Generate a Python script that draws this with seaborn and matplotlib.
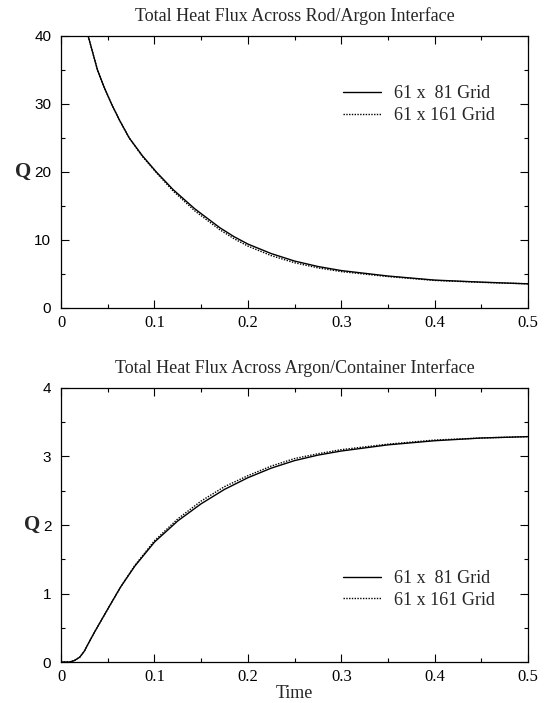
import matplotlib
matplotlib.use('Agg')
import matplotlib.pyplot as plt
import seaborn as sns
import pandas as pd
from matplotlib.ticker import MultipleLocator

sns.set_theme(style='ticks')
plt.rcParams['font.family'] = ['Liberation Serif', 'DejaVu Serif']

labels = ['61 x  81 Grid', '61 x 161 Grid']

# rod / argon interface
t_rod = [0.029, 0.039, 0.046, 0.054, 0.063, 0.073, 0.087, 0.102, 0.12, 0.143,
         0.17, 0.185, 0.2, 0.225, 0.25, 0.275, 0.3, 0.35, 0.4, 0.45, 0.5]
q_rod_81 = [40, 35, 32.5, 30, 27.5, 25, 22.4, 20, 17.4, 14.6,
            11.8, 10.5, 9.4, 8.0, 6.9, 6.1, 5.5, 4.7, 4.1, 3.8, 3.55]
q_rod_161 = [40, 35, 32.5, 30, 27.5, 25, 22.3, 19.9, 17.2, 14.3,
             11.5, 10.2, 9.1, 7.7, 6.65, 5.9, 5.35, 4.62, 4.05, 3.77, 3.55]

# argon / container interface
t_cont = [0.0, 0.009, 0.014, 0.02, 0.025, 0.03, 0.036, 0.044, 0.052, 0.064,
          0.079, 0.1, 0.125, 0.15, 0.175, 0.2, 0.225, 0.25, 0.275, 0.3, 0.35,
          0.4, 0.45, 0.5]
q_cont_81 = [0.0, 0.0, 0.02, 0.07, 0.16, 0.29, 0.44, 0.63, 0.82, 1.1,
             1.4, 1.75, 2.06, 2.31, 2.52, 2.69, 2.83, 2.94, 3.02, 3.08, 3.17,
             3.23, 3.27, 3.29]
q_cont_161 = [0.0, 0.0, 0.02, 0.07, 0.16, 0.29, 0.44, 0.63, 0.82, 1.1,
              1.41, 1.77, 2.09, 2.35, 2.56, 2.72, 2.86, 2.97, 3.04, 3.1, 3.18,
              3.24, 3.27, 3.29]

rod = pd.DataFrame({'Time': t_rod * 2, 'Q': q_rod_81 + q_rod_161,
                    'grid': [labels[0]] * len(t_rod) + [labels[1]] * len(t_rod)})
cont = pd.DataFrame({'Time': t_cont * 2, 'Q': q_cont_81 + q_cont_161,
                     'grid': [labels[0]] * len(t_cont) + [labels[1]] * len(t_cont)})

fig = plt.figure(figsize=(5.45, 7.03), dpi=100)
ax1 = fig.add_axes([0.112, 0.5619, 0.857, 0.387])
ax2 = fig.add_axes([0.112, 0.0583, 0.857, 0.3898])

dashes = {labels[0]: '', labels[1]: (1, 1)}

for ax, df, title, ymax, ymaj, leg_y in [
        (ax1, rod, 'Total Heat Flux Across Rod/Argon Interface', 40, 10, 0.878),
        (ax2, cont, 'Total Heat Flux Across Argon/Container Interface', 4, 1, 0.395)]:
    sns.lineplot(data=df, x='Time', y='Q', style='grid', dashes=dashes,
                 color='black', linewidth=1.0, ax=ax)
    ax.set_xlim(0, 0.5)
    ax.set_ylim(0, ymax)
    ax.xaxis.set_major_locator(MultipleLocator(0.1))
    ax.xaxis.set_minor_locator(MultipleLocator(0.05))
    ax.yaxis.set_major_locator(MultipleLocator(ymaj))
    ax.yaxis.set_minor_locator(MultipleLocator(ymaj / 2))
    ax.xaxis.set_major_formatter(plt.FuncFormatter(lambda v, p: '0' if v == 0 else f'{v:.1f}'))
    ax.tick_params(which='both', direction='in', top=True, right=True, colors='black')
    ax.tick_params(which='major', length=6, width=0.8)
    ax.tick_params(which='minor', length=3, width=0.8)
    ax.tick_params(axis='x', pad=5)
    ax.tick_params(axis='y', pad=7)
    for lab in ax.get_xticklabels():
        lab.set_fontfamily('Liberation Serif')
        lab.set_fontsize(12)
    for lab in ax.get_yticklabels():
        lab.set_fontfamily('Liberation Sans')
        lab.set_fontsize(11)
    for s in ax.spines.values():
        s.set_color('black')
        s.set_linewidth(0.9)
    ax.set_title(title, fontsize=13, pad=11)
    ax.set_ylabel('Q', rotation=0, fontsize=15, fontweight='bold', labelpad=8, va='center')
    ax.set_xlabel('')
    leg = ax.legend(loc='upper left', bbox_to_anchor=(0.569, leg_y), frameon=False,
                    fontsize=13, handlelength=2.1, handletextpad=0.7, labelspacing=0.25)
    for h in leg.get_lines():
        h.set_linewidth(1.0)

ax2.set_xlabel('Time', fontsize=13, labelpad=0)

fig.savefig('out.png', dpi=100)
